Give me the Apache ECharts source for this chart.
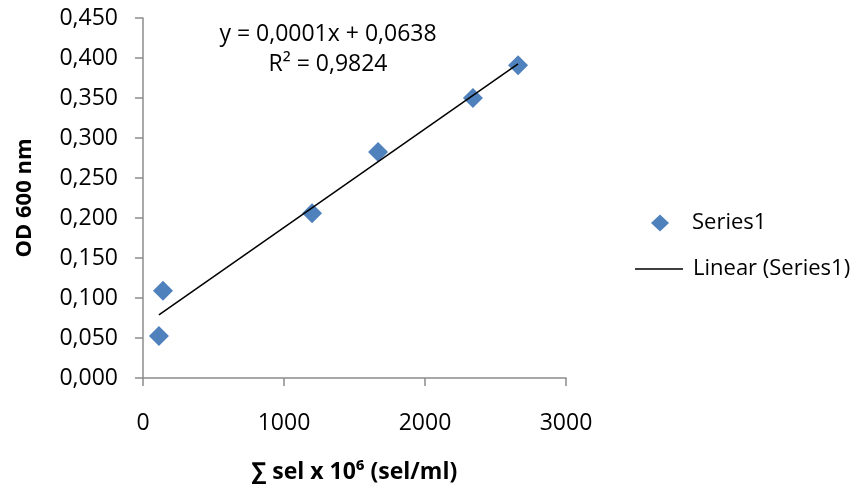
<!DOCTYPE html>
<html>
<head>
<meta charset="utf-8">
<script src="https://cdn.jsdelivr.net/npm/echarts@6/dist/echarts.min.js"></script>
<style>html,body{margin:0;padding:0;background:#fff;}#c{width:861px;height:490px;}</style>
</head>
<body>
<div id="c"></div>
<script>
// Data
var cellCounts = [113, 142, 1199, 1667, 2340, 2660];   // ∑ sel x 10^6 (sel/ml)
var odValues   = [0.0525, 0.109, 0.206, 0.2825, 0.350, 0.391]; // OD 600 nm
var xTickLabels = ['0', '1000', '2000', '3000'];
var yTickLabels = ['0,000','0,050','0,100','0,150','0,200','0,250','0,300','0,350','0,400','0,450'];
var equationText = 'y = 0,0001x + 0,0638';
var r2Text = 'R² = 0,9824';
var seriesName = 'Series1';
var trendName = 'Linear (Series1)';

// least-squares linear trendline from the data
var n = cellCounts.length, sx = 0, sy = 0, sxx = 0, sxy = 0;
for (var i = 0; i < n; i++) { sx += cellCounts[i]; sy += odValues[i]; sxx += cellCounts[i]*cellCounts[i]; sxy += cellCounts[i]*odValues[i]; }
var slope = (n*sxy - sx*sy) / (n*sxx - sx*sx);
var intercept = (sy - slope*sx) / n;
var xMin = Math.min.apply(null, cellCounts), xMax = Math.max.apply(null, cellCounts);
var trendData = [[xMin, intercept + slope*xMin], [xMax, intercept + slope*xMax]];

var FONT = '"Open Sans", sans-serif';
var chart = echarts.init(document.getElementById('c'), null, {renderer: 'canvas'});
chart.setOption({
  backgroundColor: '#ffffff',
  animation: false,
  textStyle: {fontFamily: FONT},
  title: {
    text: equationText + '\n' + r2Text,
    left: 323, top: 14, textAlign: 'center',
    textStyle: {fontFamily: FONT, fontSize: 23, fontWeight: 'normal', color: '#000', lineHeight: 30, align: 'center'}
  },
  grid: {left: 143, right: 295, top: 18, bottom: 112},
  legend: [
    {
      orient: 'vertical', left: 646, top: 207, itemWidth: 18, itemHeight: 17,
      textStyle: {fontFamily: FONT, fontSize: 22, color: '#000', padding: [0, 0, 0, 18]},
      data: [{name: seriesName, icon: 'diamond', itemStyle: {color: '#4F81BD', opacity: 1}}]
    },
    {
      orient: 'vertical', left: 630, top: 253, itemWidth: 48, itemHeight: 17,
      textStyle: {fontFamily: FONT, fontSize: 22, color: '#000', padding: [0, 0, 0, 5]},
      data: [{name: trendName, icon: 'path://M0,0 L48,0 L48,1.4 L0,1.4 Z'}]
    }
  ],
  xAxis: {
    type: 'value', min: 0, max: 3000, interval: 1000,
    name: '∑ sel x 10⁶ (sel/ml)', nameLocation: 'middle', nameGap: 83,
    nameTextStyle: {fontFamily: FONT, fontSize: 23, fontWeight: 'bold', color: '#000'},
    axisLine: {show: true, lineStyle: {color: '#8c8c8c', width: 1.5}},
    axisTick: {show: true, length: 8, lineStyle: {color: '#8c8c8c', width: 1.5}},
    axisLabel: {margin: 34, fontFamily: FONT, fontSize: 23, color: '#000',
      formatter: function (v) { return xTickLabels[Math.round(v / 1000)]; }},
    splitLine: {show: false}
  },
  yAxis: {
    type: 'value', min: 0, max: 0.45, interval: 0.05,
    name: 'OD 600 nm', nameLocation: 'middle', nameGap: 107,
    nameTextStyle: {fontFamily: FONT, fontSize: 22, fontWeight: 'bold', color: '#000'},
    axisLine: {show: true, lineStyle: {color: '#8c8c8c', width: 1.5}},
    axisTick: {show: true, length: 8, lineStyle: {color: '#8c8c8c', width: 1.5}},
    axisLabel: {margin: 25, fontFamily: FONT, fontSize: 23, color: '#000',
      formatter: function (v) { return yTickLabels[Math.round(v / 0.05)]; }},
    splitLine: {show: false}
  },
  series: [
    {
      name: seriesName, type: 'scatter', symbol: 'diamond', symbolSize: 20,
      itemStyle: {color: '#4F81BD', opacity: 1},
      data: cellCounts.map(function (x, i) { return [x, odValues[i]]; }),
      z: 2
    },
    {
      name: trendName, type: 'line', showSymbol: false, symbol: 'none',
      lineStyle: {color: '#000', width: 1.5},
      itemStyle: {color: '#000'},
      data: trendData, z: 3
    }
  ]
});
</script>
</body>
</html>
